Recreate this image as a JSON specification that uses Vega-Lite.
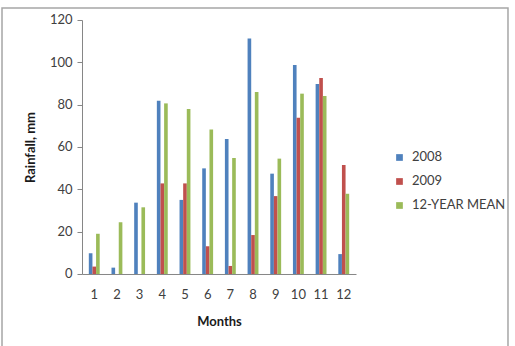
{
  "$schema": "https://vega.github.io/schema/vega-lite/v6.json",
  "autosize": {"type": "none"},
  "padding": {"left": 2, "top": 8, "right": 7, "bottom": 0},
  "width": 506,
  "height": 338.7,
  "background": "white",
  "config": {
    "view": {"stroke": "#a6a6a6", "strokeWidth": 1.5},
    "font": "Lato"
  },
  "data": {
    "values": [
      {"month": 1, "series": "2008", "value": 9.8},
      {"month": 1, "series": "2009", "value": 3.5},
      {"month": 1, "series": "12-YEAR MEAN", "value": 19},
      {"month": 2, "series": "2008", "value": 3},
      {"month": 2, "series": "2009", "value": 0},
      {"month": 2, "series": "12-YEAR MEAN", "value": 24.4},
      {"month": 3, "series": "2008", "value": 33.7},
      {"month": 3, "series": "2009", "value": 0},
      {"month": 3, "series": "12-YEAR MEAN", "value": 31.5},
      {"month": 4, "series": "2008", "value": 81.9},
      {"month": 4, "series": "2009", "value": 42.8},
      {"month": 4, "series": "12-YEAR MEAN", "value": 80.6},
      {"month": 5, "series": "2008", "value": 35},
      {"month": 5, "series": "2009", "value": 42.8},
      {"month": 5, "series": "12-YEAR MEAN", "value": 77.9},
      {"month": 6, "series": "2008", "value": 49.9},
      {"month": 6, "series": "2009", "value": 13.1},
      {"month": 6, "series": "12-YEAR MEAN", "value": 68.3},
      {"month": 7, "series": "2008", "value": 63.8},
      {"month": 7, "series": "2009", "value": 3.8},
      {"month": 7, "series": "12-YEAR MEAN", "value": 54.8},
      {"month": 8, "series": "2008", "value": 111.3},
      {"month": 8, "series": "2009", "value": 18.4},
      {"month": 8, "series": "12-YEAR MEAN", "value": 86},
      {"month": 9, "series": "2008", "value": 47.4},
      {"month": 9, "series": "2009", "value": 36.8},
      {"month": 9, "series": "12-YEAR MEAN", "value": 54.5},
      {"month": 10, "series": "2008", "value": 98.7},
      {"month": 10, "series": "2009", "value": 73.8},
      {"month": 10, "series": "12-YEAR MEAN", "value": 85.2},
      {"month": 11, "series": "2008", "value": 89.8},
      {"month": 11, "series": "2009", "value": 92.6},
      {"month": 11, "series": "12-YEAR MEAN", "value": 84.1},
      {"month": 12, "series": "2008", "value": 9.4},
      {"month": 12, "series": "2009", "value": 51.5},
      {"month": 12, "series": "12-YEAR MEAN", "value": 37.9}
    ]
  },
  "mark": {"type": "bar"},
  "encoding": {
    "x": {
      "field": "month",
      "type": "ordinal",
      "scale": {"range": [80, 354], "paddingInner": 0.52, "paddingOuter": 0.3},
      "axis": {
        "offset": -72.7,
        "title": "Months",
        "labelAngle": 0,
        "ticks": false,
        "domainColor": "#868686",
        "labelColor": "#404040",
        "labelFontSize": 13,
        "labelPadding": 15,
        "titleFontSize": 13,
        "titleFontWeight": "bold",
        "titleColor": "#1a1a1a",
        "titlePadding": 14
      }
    },
    "xOffset": {
      "field": "series",
      "sort": ["2008", "2009", "12-YEAR MEAN"],
      "scale": {"paddingInner": 0, "paddingOuter": 0}
    },
    "y": {
      "field": "value",
      "type": "quantitative",
      "scale": {"domain": [0, 120], "range": [266, 12], "nice": false},
      "axis": {
        "offset": -80,
        "values": [0, 20, 40, 60, 80, 100, 120],
        "grid": false,
        "title": "Rainfall, mm",
        "tickSize": 5,
        "tickColor": "#868686",
        "domainColor": "#868686",
        "labelColor": "#404040",
        "labelFontSize": 13,
        "labelPadding": 5,
        "titleFontSize": 13,
        "titleFontWeight": "bold",
        "titleColor": "#1a1a1a",
        "titlePadding": 12
      }
    },
    "color": {
      "field": "series",
      "type": "nominal",
      "sort": ["2008", "2009", "12-YEAR MEAN"],
      "scale": {"domain": ["2008", "2009", "12-YEAR MEAN"], "range": ["#4F81BD", "#C0504D", "#9BBB59"]},
      "legend": {
        "orient": "none",
        "legendX": 391,
        "legendY": 143,
        "title": null,
        "symbolType": "square",
        "symbolSize": 45,
        "symbolStrokeWidth": 0,
        "labelFontSize": 13,
        "labelColor": "#404040",
        "labelOffset": 6,
        "rowPadding": 10,
        "padding": 0
      }
    }
  }
}
